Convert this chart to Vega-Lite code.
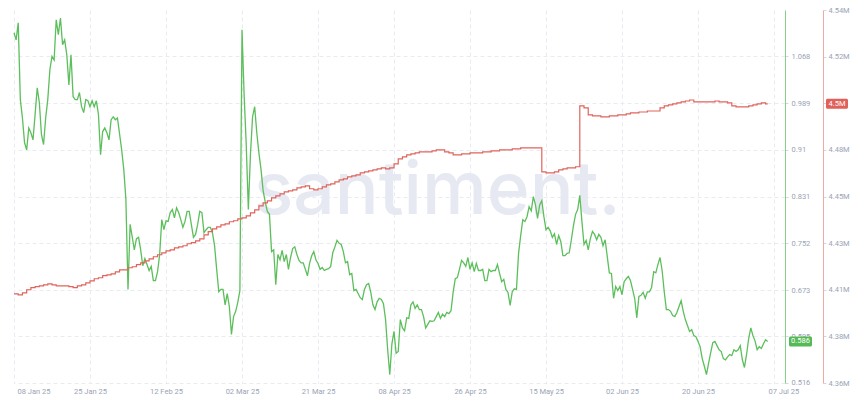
{
"$schema": "https://vega.github.io/schema/vega-lite/v6.json",
"width": 771, "height": 373,
"autosize": {"type": "none"},
"padding": {"left": 14, "top": 10, "right": 65, "bottom": 19},
"background": "white",
"config": {"view": {"stroke": null}, "font": "Roboto"},
"datasets": {
"green": [
{"t":"2025-01-08T00:00","v":1.108},{"t":"2025-01-08T12:00","v":1.096},
{"t":"2025-01-09T00:00","v":1.125},{"t":"2025-01-09T12:00","v":0.995},
{"t":"2025-01-10T00:00","v":0.964},{"t":"2025-01-10T12:00","v":0.922},
{"t":"2025-01-11T00:00","v":0.910},{"t":"2025-01-11T12:00","v":0.947},
{"t":"2025-01-12T00:00","v":0.939},{"t":"2025-01-12T12:00","v":0.927},
{"t":"2025-01-13T00:00","v":0.970},{"t":"2025-01-13T12:00","v":1.015},
{"t":"2025-01-14T00:00","v":0.990},{"t":"2025-01-14T12:00","v":0.936},
{"t":"2025-01-15T00:00","v":0.919},{"t":"2025-01-15T12:00","v":0.964},
{"t":"2025-01-16T00:00","v":0.995},{"t":"2025-01-16T12:00","v":1.046},
{"t":"2025-01-17T00:00","v":1.068},{"t":"2025-01-17T12:00","v":1.062},
{"t":"2025-01-18T00:00","v":1.130},{"t":"2025-01-18T12:00","v":1.105},
{"t":"2025-01-19T00:00","v":1.133},{"t":"2025-01-19T12:00","v":1.088},
{"t":"2025-01-20T00:00","v":1.096},{"t":"2025-01-20T12:00","v":1.071},
{"t":"2025-01-21T00:00","v":1.020},{"t":"2025-01-21T12:00","v":1.071},
{"t":"2025-01-22T00:00","v":1.000},{"t":"2025-01-22T12:00","v":0.995},
{"t":"2025-01-23T00:00","v":0.995},{"t":"2025-01-23T12:00","v":1.007},
{"t":"2025-01-24T00:00","v":0.983},{"t":"2025-01-24T12:00","v":0.973},
{"t":"2025-01-25T00:00","v":0.995},{"t":"2025-01-25T12:00","v":0.993},
{"t":"2025-01-26T00:00","v":0.983},{"t":"2025-01-26T12:00","v":0.993},
{"t":"2025-01-27T00:00","v":0.983},{"t":"2025-01-27T12:00","v":0.993},
{"t":"2025-01-28T00:00","v":0.970},{"t":"2025-01-28T12:00","v":0.902},
{"t":"2025-01-29T00:00","v":0.941},{"t":"2025-01-29T12:00","v":0.947},
{"t":"2025-01-30T00:00","v":0.939},{"t":"2025-01-30T12:00","v":0.927},
{"t":"2025-01-31T00:00","v":0.961},{"t":"2025-01-31T12:00","v":0.966},
{"t":"2025-02-01T00:00","v":0.961},{"t":"2025-02-01T12:00","v":0.964},
{"t":"2025-02-02T00:00","v":0.937},{"t":"2025-02-02T12:00","v":0.910},
{"t":"2025-02-03T00:00","v":0.877},{"t":"2025-02-03T12:00","v":0.826},
{"t":"2025-02-04T00:00","v":0.674},{"t":"2025-02-04T12:00","v":0.784},
{"t":"2025-02-05T00:00","v":0.763},{"t":"2025-02-05T12:00","v":0.741},
{"t":"2025-02-06T00:00","v":0.760},{"t":"2025-02-06T12:00","v":0.762},
{"t":"2025-02-07T00:00","v":0.741},{"t":"2025-02-07T12:00","v":0.714},
{"t":"2025-02-08T00:00","v":0.726},{"t":"2025-02-08T12:00","v":0.716},
{"t":"2025-02-09T00:00","v":0.706},{"t":"2025-02-09T12:00","v":0.713},
{"t":"2025-02-10T00:00","v":0.689},{"t":"2025-02-10T12:00","v":0.689},
{"t":"2025-02-11T00:00","v":0.704},{"t":"2025-02-11T12:00","v":0.733},
{"t":"2025-02-12T00:00","v":0.792},{"t":"2025-02-12T12:00","v":0.775},
{"t":"2025-02-13T00:00","v":0.790},{"t":"2025-02-13T12:00","v":0.789},
{"t":"2025-02-14T00:00","v":0.804},{"t":"2025-02-14T12:00","v":0.809},
{"t":"2025-02-15T00:00","v":0.795},{"t":"2025-02-15T12:00","v":0.812},
{"t":"2025-02-16T00:00","v":0.804},{"t":"2025-02-16T12:00","v":0.792},
{"t":"2025-02-17T00:00","v":0.779},{"t":"2025-02-17T12:00","v":0.789},
{"t":"2025-02-18T00:00","v":0.806},{"t":"2025-02-18T12:00","v":0.806},
{"t":"2025-02-19T00:00","v":0.784},{"t":"2025-02-19T12:00","v":0.762},
{"t":"2025-02-20T00:00","v":0.767},{"t":"2025-02-20T12:00","v":0.784},
{"t":"2025-02-21T00:00","v":0.806},{"t":"2025-02-21T12:00","v":0.804},
{"t":"2025-02-22T00:00","v":0.770},{"t":"2025-02-22T12:00","v":0.775},
{"t":"2025-02-23T00:00","v":0.779},{"t":"2025-02-23T12:00","v":0.779},
{"t":"2025-02-24T00:00","v":0.770},{"t":"2025-02-24T12:00","v":0.748},
{"t":"2025-02-25T00:00","v":0.708},{"t":"2025-02-25T12:00","v":0.670},
{"t":"2025-02-26T00:00","v":0.674},{"t":"2025-02-26T12:00","v":0.674},
{"t":"2025-02-27T00:00","v":0.648},{"t":"2025-02-27T12:00","v":0.667},
{"t":"2025-02-28T00:00","v":0.645},{"t":"2025-02-28T12:00","v":0.598},
{"t":"2025-03-01T00:00","v":0.628},{"t":"2025-03-01T12:00","v":0.637},
{"t":"2025-03-02T00:00","v":0.652},{"t":"2025-03-02T12:00","v":0.672},
{"t":"2025-03-03T00:00","v":1.113},{"t":"2025-03-03T12:00","v":1.003},
{"t":"2025-03-04T00:00","v":0.919},{"t":"2025-03-04T12:00","v":0.809},
{"t":"2025-03-05T00:00","v":0.902},{"t":"2025-03-05T12:00","v":0.966},
{"t":"2025-03-06T00:00","v":0.983},{"t":"2025-03-06T12:00","v":0.939},
{"t":"2025-03-07T00:00","v":0.905},{"t":"2025-03-07T12:00","v":0.877},
{"t":"2025-03-08T00:00","v":0.841},{"t":"2025-03-08T12:00","v":0.822},
{"t":"2025-03-09T00:00","v":0.806},{"t":"2025-03-09T12:00","v":0.801},
{"t":"2025-03-10T00:00","v":0.738},{"t":"2025-03-10T12:00","v":0.741},
{"t":"2025-03-11T00:00","v":0.682},{"t":"2025-03-11T12:00","v":0.733},
{"t":"2025-03-12T00:00","v":0.724},{"t":"2025-03-12T12:00","v":0.740},
{"t":"2025-03-13T00:00","v":0.721},{"t":"2025-03-13T12:00","v":0.733},
{"t":"2025-03-14T00:00","v":0.708},{"t":"2025-03-14T12:00","v":0.728},
{"t":"2025-03-15T00:00","v":0.743},{"t":"2025-03-15T12:00","v":0.746},
{"t":"2025-03-16T00:00","v":0.733},{"t":"2025-03-16T12:00","v":0.723},
{"t":"2025-03-17T00:00","v":0.719},{"t":"2025-03-17T12:00","v":0.719},
{"t":"2025-03-18T00:00","v":0.708},{"t":"2025-03-18T12:00","v":0.697},
{"t":"2025-03-19T00:00","v":0.718},{"t":"2025-03-19T12:00","v":0.731},
{"t":"2025-03-20T00:00","v":0.738},{"t":"2025-03-20T12:00","v":0.724},
{"t":"2025-03-21T00:00","v":0.718},{"t":"2025-03-21T12:00","v":0.708},
{"t":"2025-03-22T00:00","v":0.711},{"t":"2025-03-22T12:00","v":0.706},
{"t":"2025-03-23T00:00","v":0.708},{"t":"2025-03-23T12:00","v":0.709},
{"t":"2025-03-24T00:00","v":0.713},{"t":"2025-03-24T12:00","v":0.736},
{"t":"2025-03-25T00:00","v":0.746},{"t":"2025-03-25T12:00","v":0.757},
{"t":"2025-03-26T00:00","v":0.752},{"t":"2025-03-26T12:00","v":0.750},
{"t":"2025-03-27T00:00","v":0.738},{"t":"2025-03-27T12:00","v":0.719},
{"t":"2025-03-28T00:00","v":0.721},{"t":"2025-03-28T12:00","v":0.699},
{"t":"2025-03-29T00:00","v":0.701},{"t":"2025-03-29T12:00","v":0.672},
{"t":"2025-03-30T00:00","v":0.674},{"t":"2025-03-30T12:00","v":0.667},
{"t":"2025-03-31T00:00","v":0.660},{"t":"2025-03-31T12:00","v":0.657},
{"t":"2025-04-01T00:00","v":0.674},{"t":"2025-04-01T12:00","v":0.682},
{"t":"2025-04-02T00:00","v":0.684},{"t":"2025-04-02T12:00","v":0.669},
{"t":"2025-04-03T00:00","v":0.648},{"t":"2025-04-03T12:00","v":0.640},
{"t":"2025-04-04T00:00","v":0.653},{"t":"2025-04-04T12:00","v":0.659},
{"t":"2025-04-05T00:00","v":0.657},{"t":"2025-04-05T12:00","v":0.650},
{"t":"2025-04-06T00:00","v":0.623},{"t":"2025-04-06T12:00","v":0.572},
{"t":"2025-04-07T00:00","v":0.530},{"t":"2025-04-07T12:00","v":0.582},
{"t":"2025-04-08T00:00","v":0.603},{"t":"2025-04-08T12:00","v":0.566},
{"t":"2025-04-09T00:00","v":0.569},{"t":"2025-04-09T12:00","v":0.623},
{"t":"2025-04-10T00:00","v":0.609},{"t":"2025-04-10T12:00","v":0.604},
{"t":"2025-04-11T00:00","v":0.626},{"t":"2025-04-11T12:00","v":0.625},
{"t":"2025-04-12T00:00","v":0.648},{"t":"2025-04-12T12:00","v":0.653},
{"t":"2025-04-13T00:00","v":0.642},{"t":"2025-04-13T12:00","v":0.648},
{"t":"2025-04-14T00:00","v":0.640},{"t":"2025-04-14T12:00","v":0.640},
{"t":"2025-04-15T00:00","v":0.628},{"t":"2025-04-15T12:00","v":0.609},
{"t":"2025-04-16T00:00","v":0.615},{"t":"2025-04-16T12:00","v":0.621},
{"t":"2025-04-17T00:00","v":0.620},{"t":"2025-04-17T12:00","v":0.621},
{"t":"2025-04-18T00:00","v":0.628},{"t":"2025-04-18T12:00","v":0.635},
{"t":"2025-04-19T00:00","v":0.625},{"t":"2025-04-19T12:00","v":0.632},
{"t":"2025-04-20T00:00","v":0.628},{"t":"2025-04-20T12:00","v":0.635},
{"t":"2025-04-21T00:00","v":0.633},{"t":"2025-04-21T12:00","v":0.638},
{"t":"2025-04-22T00:00","v":0.669},{"t":"2025-04-22T12:00","v":0.692},
{"t":"2025-04-23T00:00","v":0.694},{"t":"2025-04-23T12:00","v":0.708},
{"t":"2025-04-24T00:00","v":0.723},{"t":"2025-04-24T12:00","v":0.719},
{"t":"2025-04-25T00:00","v":0.713},{"t":"2025-04-25T12:00","v":0.728},
{"t":"2025-04-26T00:00","v":0.708},{"t":"2025-04-26T12:00","v":0.719},
{"t":"2025-04-27T00:00","v":0.704},{"t":"2025-04-27T12:00","v":0.718},
{"t":"2025-04-28T00:00","v":0.706},{"t":"2025-04-28T12:00","v":0.706},
{"t":"2025-04-29T00:00","v":0.708},{"t":"2025-04-29T12:00","v":0.689},
{"t":"2025-04-30T00:00","v":0.689},{"t":"2025-04-30T12:00","v":0.708},
{"t":"2025-05-01T00:00","v":0.704},{"t":"2025-05-01T12:00","v":0.706},
{"t":"2025-05-02T00:00","v":0.706},{"t":"2025-05-02T12:00","v":0.716},
{"t":"2025-05-03T00:00","v":0.701},{"t":"2025-05-03T12:00","v":0.687},
{"t":"2025-05-04T00:00","v":0.691},{"t":"2025-05-04T12:00","v":0.674},
{"t":"2025-05-05T00:00","v":0.669},{"t":"2025-05-05T12:00","v":0.647},
{"t":"2025-05-06T00:00","v":0.670},{"t":"2025-05-06T12:00","v":0.675},
{"t":"2025-05-07T00:00","v":0.674},{"t":"2025-05-07T12:00","v":0.735},
{"t":"2025-05-08T00:00","v":0.765},{"t":"2025-05-08T12:00","v":0.792},
{"t":"2025-05-09T00:00","v":0.789},{"t":"2025-05-09T12:00","v":0.797},
{"t":"2025-05-10T00:00","v":0.814},{"t":"2025-05-10T12:00","v":0.807},
{"t":"2025-05-11T00:00","v":0.831},{"t":"2025-05-11T12:00","v":0.817},
{"t":"2025-05-12T00:00","v":0.794},{"t":"2025-05-12T12:00","v":0.817},
{"t":"2025-05-13T00:00","v":0.824},{"t":"2025-05-13T12:00","v":0.797},
{"t":"2025-05-14T00:00","v":0.775},{"t":"2025-05-14T12:00","v":0.779},
{"t":"2025-05-15T00:00","v":0.773},{"t":"2025-05-15T12:00","v":0.762},
{"t":"2025-05-16T00:00","v":0.768},{"t":"2025-05-16T12:00","v":0.750},
{"t":"2025-05-17T00:00","v":0.765},{"t":"2025-05-17T12:00","v":0.755},
{"t":"2025-05-18T00:00","v":0.731},{"t":"2025-05-18T12:00","v":0.731},
{"t":"2025-05-19T00:00","v":0.735},{"t":"2025-05-19T12:00","v":0.736},
{"t":"2025-05-20T00:00","v":0.758},{"t":"2025-05-20T12:00","v":0.782},
{"t":"2025-05-21T00:00","v":0.801},{"t":"2025-05-21T12:00","v":0.809},
{"t":"2025-05-22T00:00","v":0.833},{"t":"2025-05-22T12:00","v":0.789},
{"t":"2025-05-23T00:00","v":0.750},{"t":"2025-05-23T12:00","v":0.757},
{"t":"2025-05-24T00:00","v":0.741},{"t":"2025-05-24T12:00","v":0.760},
{"t":"2025-05-25T00:00","v":0.772},{"t":"2025-05-25T12:00","v":0.767},
{"t":"2025-05-26T00:00","v":0.758},{"t":"2025-05-26T12:00","v":0.767},
{"t":"2025-05-27T00:00","v":0.762},{"t":"2025-05-27T12:00","v":0.748},
{"t":"2025-05-28T00:00","v":0.758},{"t":"2025-05-28T12:00","v":0.730},
{"t":"2025-05-29T00:00","v":0.702},{"t":"2025-05-29T12:00","v":0.701},
{"t":"2025-05-30T00:00","v":0.659},{"t":"2025-05-30T12:00","v":0.679},
{"t":"2025-05-31T00:00","v":0.672},{"t":"2025-05-31T12:00","v":0.679},
{"t":"2025-06-01T00:00","v":0.665},{"t":"2025-06-01T12:00","v":0.687},
{"t":"2025-06-02T00:00","v":0.692},{"t":"2025-06-02T12:00","v":0.696},
{"t":"2025-06-03T00:00","v":0.689},{"t":"2025-06-03T12:00","v":0.674},
{"t":"2025-06-04T00:00","v":0.659},{"t":"2025-06-04T12:00","v":0.626},
{"t":"2025-06-05T00:00","v":0.662},{"t":"2025-06-05T12:00","v":0.664},
{"t":"2025-06-06T00:00","v":0.669},{"t":"2025-06-06T12:00","v":0.659},
{"t":"2025-06-07T00:00","v":0.670},{"t":"2025-06-07T12:00","v":0.670},
{"t":"2025-06-08T00:00","v":0.677},{"t":"2025-06-08T12:00","v":0.704},
{"t":"2025-06-09T00:00","v":0.702},{"t":"2025-06-09T12:00","v":0.716},
{"t":"2025-06-10T00:00","v":0.728},{"t":"2025-06-10T12:00","v":0.706},
{"t":"2025-06-11T00:00","v":0.670},{"t":"2025-06-11T12:00","v":0.640},
{"t":"2025-06-12T00:00","v":0.640},{"t":"2025-06-12T12:00","v":0.637},
{"t":"2025-06-13T00:00","v":0.630},{"t":"2025-06-13T12:00","v":0.628},
{"t":"2025-06-14T00:00","v":0.635},{"t":"2025-06-14T12:00","v":0.645},
{"t":"2025-06-15T00:00","v":0.655},{"t":"2025-06-15T12:00","v":0.637},
{"t":"2025-06-16T00:00","v":0.623},{"t":"2025-06-16T12:00","v":0.613},
{"t":"2025-06-17T00:00","v":0.603},{"t":"2025-06-17T12:00","v":0.606},
{"t":"2025-06-18T00:00","v":0.596},{"t":"2025-06-18T12:00","v":0.594},
{"t":"2025-06-19T00:00","v":0.586},{"t":"2025-06-19T12:00","v":0.577},
{"t":"2025-06-20T00:00","v":0.557},{"t":"2025-06-20T12:00","v":0.544},
{"t":"2025-06-21T00:00","v":0.530},{"t":"2025-06-21T12:00","v":0.549},
{"t":"2025-06-22T00:00","v":0.567},{"t":"2025-06-22T12:00","v":0.584},
{"t":"2025-06-23T00:00","v":0.586},{"t":"2025-06-23T12:00","v":0.579},
{"t":"2025-06-24T00:00","v":0.572},{"t":"2025-06-24T12:00","v":0.569},
{"t":"2025-06-25T00:00","v":0.557},{"t":"2025-06-25T12:00","v":0.555},
{"t":"2025-06-26T00:00","v":0.560},{"t":"2025-06-26T12:00","v":0.564},
{"t":"2025-06-27T00:00","v":0.562},{"t":"2025-06-27T12:00","v":0.572},
{"t":"2025-06-28T00:00","v":0.569},{"t":"2025-06-28T12:00","v":0.572},
{"t":"2025-06-29T00:00","v":0.579},{"t":"2025-06-29T12:00","v":0.555},
{"t":"2025-06-30T00:00","v":0.542},{"t":"2025-06-30T12:00","v":0.564},
{"t":"2025-07-01T00:00","v":0.591},{"t":"2025-07-01T12:00","v":0.609},
{"t":"2025-07-02T00:00","v":0.596},{"t":"2025-07-02T12:00","v":0.587},
{"t":"2025-07-03T00:00","v":0.572},{"t":"2025-07-03T12:00","v":0.577},
{"t":"2025-07-04T00:00","v":0.574},{"t":"2025-07-04T12:00","v":0.582},
{"t":"2025-07-05T00:00","v":0.589},{"t":"2025-07-05T12:00","v":0.586}
],
"red": [
{"t":"2025-01-08T00:00","v":4404800},{"t":"2025-01-09T00:00","v":4404300},{"t":"2025-01-10T00:00","v":4405300},{"t":"2025-01-11T00:00","v":4406800},
{"t":"2025-01-12T00:00","v":4407800},{"t":"2025-01-13T00:00","v":4408300},{"t":"2025-01-14T00:00","v":4408700},{"t":"2025-01-15T00:00","v":4409200},
{"t":"2025-01-16T00:00","v":4409700},{"t":"2025-01-17T00:00","v":4409200},{"t":"2025-01-18T00:00","v":4408700},{"t":"2025-01-19T00:00","v":4408700},
{"t":"2025-01-20T00:00","v":4408700},{"t":"2025-01-21T00:00","v":4408300},{"t":"2025-01-22T00:00","v":4407800},{"t":"2025-01-23T00:00","v":4408700},
{"t":"2025-01-24T00:00","v":4409200},{"t":"2025-01-25T00:00","v":4410200},{"t":"2025-01-26T00:00","v":4411200},{"t":"2025-01-27T00:00","v":4412200},
{"t":"2025-01-28T00:00","v":4412700},{"t":"2025-01-29T00:00","v":4413700},{"t":"2025-01-30T00:00","v":4414100},{"t":"2025-01-31T00:00","v":4414600},
{"t":"2025-02-01T00:00","v":4415600},{"t":"2025-02-02T00:00","v":4416600},{"t":"2025-02-03T00:00","v":4416600},{"t":"2025-02-04T00:00","v":4417600},
{"t":"2025-02-05T00:00","v":4418100},{"t":"2025-02-06T00:00","v":4419100},{"t":"2025-02-07T00:00","v":4420000},{"t":"2025-02-08T00:00","v":4421000},
{"t":"2025-02-09T00:00","v":4422000},{"t":"2025-02-10T00:00","v":4423000},{"t":"2025-02-11T00:00","v":4424000},{"t":"2025-02-12T00:00","v":4424900},
{"t":"2025-02-13T00:00","v":4425900},{"t":"2025-02-14T00:00","v":4426400},{"t":"2025-02-15T00:00","v":4427400},{"t":"2025-02-16T00:00","v":4427900},
{"t":"2025-02-17T00:00","v":4428400},{"t":"2025-02-18T00:00","v":4429400},{"t":"2025-02-19T00:00","v":4429900},{"t":"2025-02-20T00:00","v":4430800},
{"t":"2025-02-21T00:00","v":4431800},{"t":"2025-02-22T00:00","v":4433800},{"t":"2025-02-23T00:00","v":4435300},{"t":"2025-02-24T00:00","v":4436700},
{"t":"2025-02-25T00:00","v":4437700},{"t":"2025-02-26T00:00","v":4438700},{"t":"2025-02-27T00:00","v":4439200},{"t":"2025-02-28T00:00","v":4440200},
{"t":"2025-03-01T00:00","v":4440700},{"t":"2025-03-02T00:00","v":4441600},{"t":"2025-03-03T00:00","v":4442100},{"t":"2025-03-04T00:00","v":4443100},
{"t":"2025-03-05T00:00","v":4444600},{"t":"2025-03-06T00:00","v":4446000},{"t":"2025-03-07T00:00","v":4448000},{"t":"2025-03-08T00:00","v":4449500},
{"t":"2025-03-09T00:00","v":4450500},{"t":"2025-03-10T00:00","v":4451900},{"t":"2025-03-11T00:00","v":4452900},{"t":"2025-03-12T00:00","v":4453900},
{"t":"2025-03-13T00:00","v":4454900},{"t":"2025-03-14T00:00","v":4455400},{"t":"2025-03-15T00:00","v":4455900},{"t":"2025-03-16T00:00","v":4456800},
{"t":"2025-03-17T00:00","v":4457300},{"t":"2025-03-18T00:00","v":4457800},{"t":"2025-03-19T00:00","v":4456400},{"t":"2025-03-20T00:00","v":4455900},
{"t":"2025-03-21T00:00","v":4456400},{"t":"2025-03-22T00:00","v":4457300},{"t":"2025-03-23T00:00","v":4458300},{"t":"2025-03-24T00:00","v":4458800},
{"t":"2025-03-25T00:00","v":4459800},{"t":"2025-03-26T00:00","v":4460800},{"t":"2025-03-27T00:00","v":4461300},{"t":"2025-03-28T00:00","v":4462200},
{"t":"2025-03-29T00:00","v":4462700},{"t":"2025-03-30T00:00","v":4463200},{"t":"2025-03-31T00:00","v":4464200},{"t":"2025-04-01T00:00","v":4464700},
{"t":"2025-04-02T00:00","v":4465200},{"t":"2025-04-03T00:00","v":4465700},{"t":"2025-04-04T00:00","v":4466200},{"t":"2025-04-05T00:00","v":4466700},
{"t":"2025-04-06T00:00","v":4466200},{"t":"2025-04-07T00:00","v":4466700},{"t":"2025-04-08T00:00","v":4468600},{"t":"2025-04-09T00:00","v":4471100},
{"t":"2025-04-10T00:00","v":4472100},{"t":"2025-04-11T00:00","v":4473000},{"t":"2025-04-12T00:00","v":4473500},{"t":"2025-04-13T00:00","v":4474000},
{"t":"2025-04-14T00:00","v":4474500},{"t":"2025-04-15T00:00","v":4474500},{"t":"2025-04-16T00:00","v":4474500},{"t":"2025-04-17T00:00","v":4475000},
{"t":"2025-04-18T00:00","v":4475500},{"t":"2025-04-19T00:00","v":4475500},{"t":"2025-04-20T00:00","v":4474500},{"t":"2025-04-21T00:00","v":4474000},
{"t":"2025-04-22T00:00","v":4473000},{"t":"2025-04-23T00:00","v":4473000},{"t":"2025-04-24T00:00","v":4473500},{"t":"2025-04-25T00:00","v":4473500},
{"t":"2025-04-26T00:00","v":4474000},{"t":"2025-04-27T00:00","v":4474000},{"t":"2025-04-28T00:00","v":4474000},{"t":"2025-04-29T00:00","v":4474500},
{"t":"2025-04-30T00:00","v":4474500},{"t":"2025-05-01T00:00","v":4475000},{"t":"2025-05-02T00:00","v":4475000},{"t":"2025-05-03T00:00","v":4475500},
{"t":"2025-05-04T00:00","v":4475500},{"t":"2025-05-05T00:00","v":4475500},{"t":"2025-05-06T00:00","v":4476000},{"t":"2025-05-07T00:00","v":4476000},
{"t":"2025-05-08T00:00","v":4476500},{"t":"2025-05-09T00:00","v":4476500},{"t":"2025-05-10T00:00","v":4476500},{"t":"2025-05-11T00:00","v":4476500},
{"t":"2025-05-12T00:00","v":4476500},{"t":"2025-05-13T00:00","v":4464700},{"t":"2025-05-14T00:00","v":4464200},{"t":"2025-05-15T00:00","v":4464200},
{"t":"2025-05-16T00:00","v":4464700},{"t":"2025-05-17T00:00","v":4465700},{"t":"2025-05-18T00:00","v":4466200},{"t":"2025-05-19T00:00","v":4466700},
{"t":"2025-05-20T00:00","v":4466700},{"t":"2025-05-21T00:00","v":4467200},{"t":"2025-05-22T00:00","v":4497100},{"t":"2025-05-23T00:00","v":4496100},
{"t":"2025-05-24T00:00","v":4492700},{"t":"2025-05-25T00:00","v":4492200},{"t":"2025-05-26T00:00","v":4492200},{"t":"2025-05-27T00:00","v":4491700},
{"t":"2025-05-28T00:00","v":4491700},{"t":"2025-05-29T00:00","v":4492200},{"t":"2025-05-30T00:00","v":4492200},{"t":"2025-05-31T00:00","v":4492700},
{"t":"2025-06-01T00:00","v":4492700},{"t":"2025-06-02T00:00","v":4493200},{"t":"2025-06-03T00:00","v":4493700},{"t":"2025-06-04T00:00","v":4493700},
{"t":"2025-06-05T00:00","v":4494100},{"t":"2025-06-06T00:00","v":4494100},{"t":"2025-06-07T00:00","v":4494600},{"t":"2025-06-08T00:00","v":4494600},
{"t":"2025-06-09T00:00","v":4494600},{"t":"2025-06-10T00:00","v":4496100},{"t":"2025-06-11T00:00","v":4497100},{"t":"2025-06-12T00:00","v":4497600},
{"t":"2025-06-13T00:00","v":4498100},{"t":"2025-06-14T00:00","v":4498600},{"t":"2025-06-15T00:00","v":4499100},{"t":"2025-06-16T00:00","v":4499500},
{"t":"2025-06-17T00:00","v":4500000},{"t":"2025-06-18T00:00","v":4499100},{"t":"2025-06-19T00:00","v":4499100},{"t":"2025-06-20T00:00","v":4499100},
{"t":"2025-06-21T00:00","v":4499100},{"t":"2025-06-22T00:00","v":4499100},{"t":"2025-06-23T00:00","v":4499500},{"t":"2025-06-24T00:00","v":4499100},
{"t":"2025-06-25T00:00","v":4499100},{"t":"2025-06-26T00:00","v":4498600},{"t":"2025-06-27T00:00","v":4497100},{"t":"2025-06-28T00:00","v":4496600},
{"t":"2025-06-29T00:00","v":4496600},{"t":"2025-06-30T00:00","v":4496600},{"t":"2025-07-01T00:00","v":4497100},{"t":"2025-07-02T00:00","v":4497600},
{"t":"2025-07-03T00:00","v":4498100},{"t":"2025-07-04T00:00","v":4498600},{"t":"2025-07-05T00:00","v":4498100},{"t":"2025-07-05T12:00","v":4498100}
]
},
"layer": [
{
"data": {"values": [{}]},
"mark": {"type": "text", "text": "santiment.", "font": "Inter", "fontSize": 73, "fontWeight": 500, "color": "#e7e9f2", "align": "center", "baseline": "alphabetic"},
"encoding": {"x": {"value": {"expr": "width*0.549"}}, "y": {"value": {"expr": "height*0.547"}}}
},
{
"data": {"name": "green"},
"layer": [
{
"mark": {"type": "line", "color": "#5cbf5c", "strokeWidth": 1.3},
"encoding": {
"x": {"field": "t", "type": "temporal",
"scale": {"domain": [{"year": 2025, "month": 1, "date": 8}, {"year": 2025, "month": 7, "date": 9, "hours": 14, "minutes": 24}], "nice": false},
"axis": {"title": null,
"values": [{"year":2025,"month":1,"date":8},{"year":2025,"month":1,"date":26},{"year":2025,"month":2,"date":13},{"year":2025,"month":3,"date":3},{"year":2025,"month":3,"date":21},{"year":2025,"month":4,"date":8},{"year":2025,"month":4,"date":26},{"year":2025,"month":5,"date":14},{"year":2025,"month":6,"date":1},{"year":2025,"month":6,"date":19},{"year":2025,"month":7,"date":7}],
"labelExpr": "['08 Jan 25','25 Jan 25','12 Feb 25','02 Mar 25','21 Mar 25','08 Apr 25','26 Apr 25','15 May 25','02 Jun 25','20 Jun 25','07 Jul 25'][round((datum.value - datetime(2025,0,8))/1555200000)]",
"grid": true, "gridColor": "#e8ebf0", "gridDash": [4, 3], "domain": false, "ticks": false,
"labelPadding": 4, "labelFlush": false,
"labelAlign": {"condition": {"test": "datum.index == 0 || datum.index == 1", "value": "left"}, "value": "center"},
"labelOffset": {"condition": [{"test": "datum.index == 0", "value": 3}, {"test": "datum.index == 1", "value": -6}], "value": 0},
"labelColor": "#9aa3b5", "labelFontSize": 7.5, "labelFont": "Roboto"}},
"y": {"field": "v", "type": "quantitative",
"scale": {"domain": [0.51575, 1.14655], "nice": false, "zero": false},
"axis": {"title": null, "orient": "right",
"values": [0.516, 0.595, 0.673, 0.752, 0.831, 0.91, 0.989, 1.068, 1.147], "format": ".3~f",
"grid": true, "gridColor": "#e8ebf0", "gridDash": [4, 3],
"domainColor": "#86cf86", "tickColor": "#d3d8e0", "tickSize": 3, "labelPadding": 3,
"labelColor": "#9aa3b5", "labelFontSize": 7.5, "labelFont": "Roboto"}}
}
},
{
"data": {"values": [{"v": 0.586}]},
"mark": {"type": "rect", "color": "#55b955", "cornerRadius": 1.5, "yOffset": -5, "y2Offset": 5},
"encoding": {"x": {"value": {"expr": "width+4"}}, "x2": {"value": {"expr": "width+27"}},
"y": {"field": "v", "type": "quantitative"}, "y2": {"field": "v"}}
},
{
"data": {"values": [{"v": 0.586}]},
"mark": {"type": "text", "color": "white", "fontSize": 7.5, "font": "Roboto", "align": "center", "baseline": "middle"},
"encoding": {"x": {"value": {"expr": "width+15.5"}},
"y": {"field": "v", "type": "quantitative"},
"text": {"field": "v", "type": "quantitative", "format": ".3f"}}
}
]
},
{
"data": {"name": "red"},
"layer": [
{
"mark": {"type": "line", "color": "#e0645c", "strokeWidth": 1.2, "interpolate": "step-after"},
"encoding": {
"x": {"field": "t", "type": "temporal",
"scale": {"domain": [{"year": 2025, "month": 1, "date": 8}, {"year": 2025, "month": 7, "date": 9, "hours": 14, "minutes": 24}], "nice": false}},
"y": {"field": "v", "type": "quantitative",
"scale": {"domain": [4361000, 4544200], "nice": false, "zero": false},
"axis": {"title": null, "orient": "right", "offset": 38,
"values": [4361000, 4383900, 4406800, 4429700, 4452600, 4475500, 4498400, 4521300, 4544200], "format": ".3~s",
"grid": false, "domainColor": "#f0aaa6", "tickColor": "#d3d8e0", "tickSize": 3, "labelPadding": 2,
"labelColor": "#9aa3b5", "labelFontSize": 7.5, "labelFont": "Roboto"}}
}
},
{
"data": {"values": [{"v": 4498100}]},
"mark": {"type": "rect", "color": "#e0605a", "cornerRadius": 1.5, "yOffset": -5, "y2Offset": 5},
"encoding": {"x": {"value": {"expr": "width+41"}}, "x2": {"value": {"expr": "width+63"}},
"y": {"field": "v", "type": "quantitative"}, "y2": {"field": "v"}}
},
{
"data": {"values": [{"v": 4498100}]},
"mark": {"type": "text", "color": "white", "fontSize": 7.5, "font": "Roboto", "align": "center", "baseline": "middle"},
"encoding": {"x": {"value": {"expr": "width+52"}},
"y": {"field": "v", "type": "quantitative"},
"text": {"field": "v", "type": "quantitative", "format": ".2~s"}}
}
]
}
],
"resolve": {"scale": {"y": "independent"}}
}
